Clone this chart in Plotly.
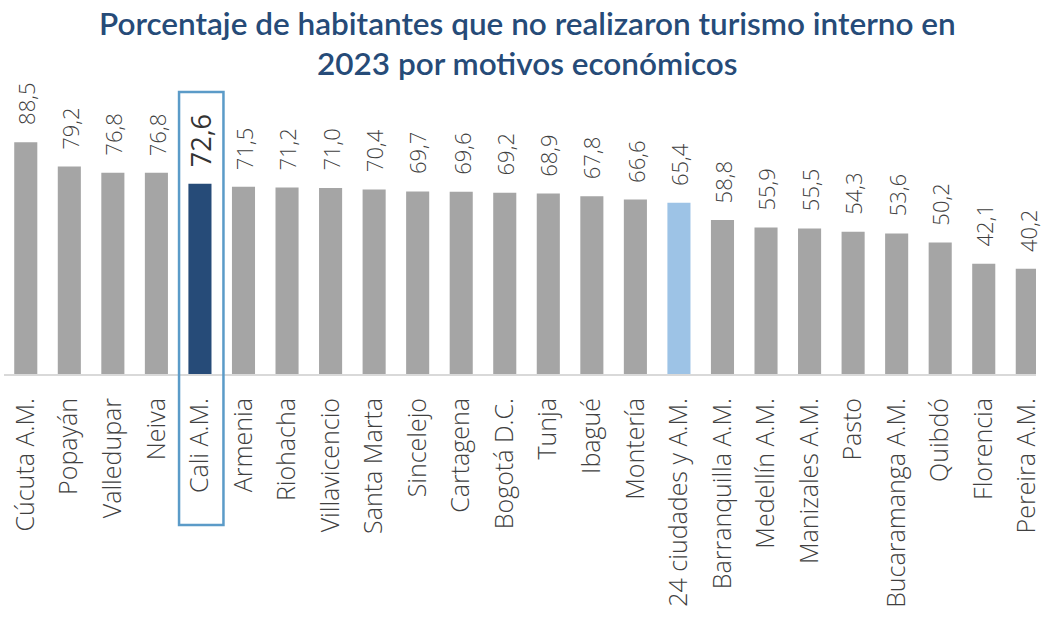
import plotly.graph_objects as go

categories = ["Cúcuta A.M.", "Popayán", "Valledupar", "Neiva", "Cali A.M.", "Armenia",
              "Riohacha", "Villavicencio", "Santa Marta", "Sincelejo", "Cartagena",
              "Bogotá D.C.", "Tunja", "Ibagué", "Montería", "24 ciudades y A.M.",
              "Barranquilla A.M.", "Medellín A.M.", "Manizales A.M.", "Pasto",
              "Bucaramanga A.M.", "Quibdó", "Florencia", "Pereira A.M."]
values = [88.5, 79.2, 76.8, 76.8, 72.6, 71.5, 71.2, 71.0, 70.4, 69.7, 69.6, 69.2,
          68.9, 67.8, 66.6, 65.4, 58.8, 55.9, 55.5, 54.3, 53.6, 50.2, 42.1, 40.2]
highlight = "Cali A.M."
total = "24 ciudades y A.M."
title_lines = ["Porcentaje de habitantes que no realizaron turismo interno en",
               "2023 por motivos económicos"]

GRAY = "#a5a5a5"
DARK = "#264b78"
LIGHT = "#9dc3e6"

colors = [DARK if c == highlight else LIGHT if c == total else GRAY for c in categories]
labels = [f"{v:.1f}".replace(".", ",") for v in values]

W, H = 1042, 618
ml, mr, mt, mb = 4, 0, 90, 244
plot_h = H - mt - mb
base = H - mb


def py(pix):
    """pixel row -> paper y"""
    return (base - pix) / plot_h


fig = go.Figure(go.Bar(
    x=categories, y=values, marker=dict(color=colors, line=dict(width=0)),
    hoverinfo="skip",
))

for c, v, lab in zip(categories, values, labels):
    hl = c == highlight
    fig.add_annotation(
        x=c, y=v, text=lab, showarrow=False, textangle=-90,
        xanchor="center", yanchor="bottom", yshift=15,
        font=dict(family="Open Sans", size=27 if hl else 22,
                  color="#333333" if hl else "#404040", weight=400 if hl else 300),
    )

for line, ypix in zip(title_lines, [23, 63]):
    fig.add_annotation(
        xref="paper", yref="paper", x=(531 - ml) / (W - ml - mr), y=py(ypix),
        text=line, showarrow=False, xanchor="center", yanchor="middle",
        font=dict(family="Lato", size=31.5, color=DARK, weight=600),
    )

idx = categories.index(highlight)
fig.add_shape(type="rect", xref="x", yref="paper",
              x0=idx - 0.48, x1=idx + 0.54,
              y0=py(525), y1=py(92),
              line=dict(color="#5b9bc8", width=2.5), fillcolor="rgba(0,0,0,0)")

fig.update_layout(
    width=W, height=H,
    margin=dict(l=ml, r=mr, t=mt, b=mb),
    paper_bgcolor="white", plot_bgcolor="white",
    bargap=0.47,
    showlegend=False,
    xaxis=dict(
        type="category", range=[-0.5, 23.2],
        showline=True, linecolor="#d9d9d9", linewidth=2,
        showgrid=False, ticks="", tickangle=-90,
        ticklabelstandoff=12,
        tickfont=dict(family="Open Sans", size=25, color="#404040", weight=300),
    ),
    yaxis=dict(
        range=[0, plot_h / 2.62], visible=False, showgrid=False, zeroline=False,
    ),
)

fig.write_html("out.html")
